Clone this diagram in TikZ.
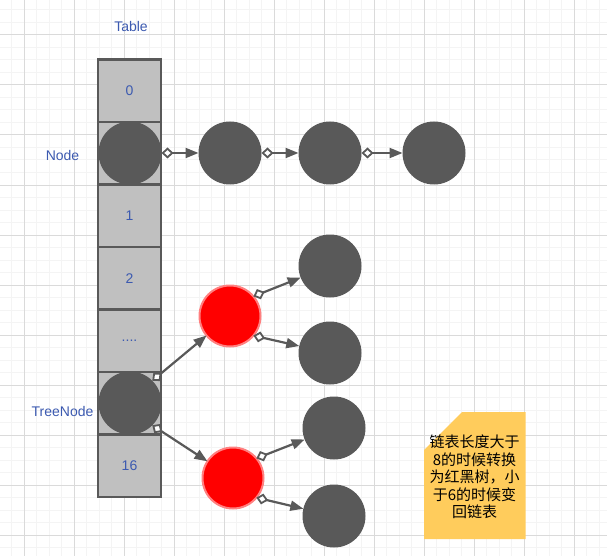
\documentclass[tikz,border=0pt]{standalone}
\usepackage{fontspec}
\setmainfont{Liberation Sans}
\newfontfamily\cjk{Noto Sans CJK SC}
\usetikzlibrary{arrows.meta}
\definecolor{gridmin}{RGB}{244,244,244}
\definecolor{gridmaj}{RGB}{218,218,218}
\definecolor{dk}{RGB}{89,89,89}
\definecolor{cellfill}{RGB}{192,192,192}
\definecolor{lbl}{RGB}{60,90,176}
\definecolor{redline}{RGB}{255,128,128}
\definecolor{notecol}{RGB}{255,204,92}
\begin{document}
\begin{tikzpicture}[x=1pt,y=-1pt,
  cell/.style={draw=dk,line width=2.5pt,fill=cellfill,minimum width=63pt,minimum height=62.5pt,inner sep=0pt,outer sep=0pt,text=lbl,font=\fontsize{14}{16}\selectfont},
  lab/.style={text=lbl,font=\fontsize{14}{16}\selectfont,inner sep=0pt},
  dot/.style={circle,fill=dk,minimum size=63pt,inner sep=0pt,outer sep=0pt},
  rdot/.style={circle,fill=red,draw=redline,line width=2pt,minimum size=61pt,inner sep=0pt,outer sep=0pt},
  link/.style={draw=dk,line width=2.2pt,arrows={Diamond[fill=white,length=12pt,width=11pt,line width=1.8pt]-Triangle[length=13pt,width=10pt]}},
  minorline/.style={draw=gridmin,line width=1pt},
  majorline/.style={draw=gridmaj,line width=1pt}]
\useasboundingbox (0,0) rectangle (607,556);
\fill[white] (0,0) rectangle (607,556);
% grid
\foreach \i in {0,...,49} {\draw[minorline] ({-1+12.5*\i},0) -- ({-1+12.5*\i},556);}
\foreach \j in {0,...,45} {\draw[minorline] (0,{-2.5+12.5*\j}) -- (607,{-2.5+12.5*\j});}
\foreach \i in {0,...,11} {\draw[majorline] ({24+50*\i},0) -- ({24+50*\i},556);}
\foreach \j in {0,...,10} {\draw[majorline] (0,{35+50*\j}) -- (607,{35+50*\j});}
% labels
\node[lab] (ttable) at (131,26) {Table};
\node[lab] (tnode) at (62.5,155) {Node};
\node[lab] (ttree) at (62.5,411) {TreeNode};
% table cells
\node[cell] (c0) at (129.5,90.75) {0};
\node[cell] (c1) at (129.5,153.25) {};
\node[cell] (c2) at (129.5,215.75) {1};
\node[cell] (c3) at (129.5,278.25) {2};
\node[cell] (c4) at (129.5,340.75) {....};
\node[cell] (c5) at (129.5,403.25) {};
\node[cell] (c6) at (129.5,465.75) {16};
% linked list
\node[dot] (n0) at (130,153) {};
\node[dot] (n1) at (230,153) {};
\node[dot] (n2) at (330,153) {};
\node[dot] (n3) at (434,153) {};
% tree
\node[dot] (tn) at (130,403) {};
\node[rdot] (r1) at (230,316) {};
\node[rdot] (r2) at (233,478) {};
\node[dot] (d1) at (330,266) {};
\node[dot] (d2) at (330,353) {};
\node[dot] (d3) at (334,428) {};
\node[dot] (d4) at (334,516) {};
% connectors
\draw[link] (n0.east) -- (n1);
\draw[link] (n1.east) -- (n2);
\draw[link] (n2.east) -- (n3);
\draw[link] (tn.45) -- (r1);
\draw[link] (tn.-45) -- (r2);
\draw[link] (r1.40) -- (d1);
\draw[link] (r1.-40) -- (d2);
\draw[link] (r2.40) -- (d3);
\draw[link] (r2.-40) -- (d4);
% note
\fill[notecol] (424,450) -- (462,412) -- (525.5,412) -- (525.5,539) -- (424,539) -- cycle;
\node[align=center,inner sep=0pt,font=\cjk\fontsize{15}{17.5}\selectfont] (note) at (474.5,477) {链表长度大于\\8的时候转换\\为红黑树，小\\于6的时候变\\回链表};
\end{tikzpicture}
\end{document}
